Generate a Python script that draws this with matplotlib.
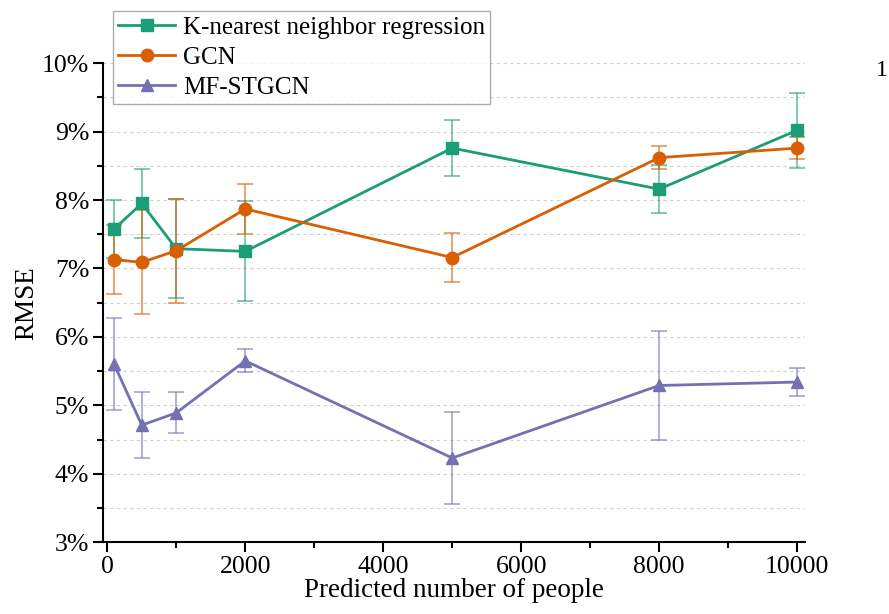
import matplotlib.pyplot as plt
from matplotlib.ticker import MultipleLocator, FuncFormatter

plt.rcParams['font.family'] = ['Liberation Serif', 'DejaVu Serif']

# Data (RMSE in %)
x = [100, 500, 1000, 2000, 5000, 8000, 10000]
knn = [7.58, 7.95, 7.29, 7.25, 8.76, 8.16, 9.02]
knn_err = [0.42, 0.50, 0.72, 0.73, 0.41, 0.35, 0.55]
gcn = [7.13, 7.09, 7.26, 7.87, 7.16, 8.62, 8.76]
gcn_err = [0.50, 0.76, 0.76, 0.36, 0.36, 0.17, 0.16]
mf = [5.60, 4.71, 4.89, 5.65, 4.23, 5.29, 5.34]
mf_err = [0.67, 0.48, 0.30, 0.17, 0.67, 0.79, 0.21]

names = ['K-nearest neighbor regression', 'GCN', 'MF-STGCN']
colors = ['#1b9e77', '#d95f02', '#7570b3']
markers = ['s', 'o', '^']

fig = plt.figure(figsize=(8.89, 6.14), dpi=100)
ax = fig.add_axes([0.116, 0.117, 0.79, 0.78])

handles = []
for ys, es, c, m, n in zip([knn, gcn, mf], [knn_err, gcn_err, mf_err], colors, markers, names):
    ax.errorbar(x, ys, yerr=es, fmt='none', ecolor=c, alpha=0.65,
                elinewidth=1.2, capsize=6, capthick=1.2, zorder=2)
    h, = ax.plot(x, ys, color=c, marker=m, markersize=9, linewidth=2, label=n, zorder=3)
    handles.append(h)

ax.set_xlim(-60, 10120)
ax.set_ylim(3, 10)
ax.xaxis.set_major_locator(MultipleLocator(2000))
ax.xaxis.set_minor_locator(MultipleLocator(1000))
ax.yaxis.set_major_locator(MultipleLocator(1))
ax.yaxis.set_minor_locator(MultipleLocator(0.5))
ax.yaxis.set_major_formatter(FuncFormatter(lambda v, p: '%d%%' % round(v)))

ax.grid(True, axis='y', which='both', linestyle=(0, (3, 3)), color='#d0d0d0', linewidth=0.8)
ax.set_axisbelow(True)

for s in ['top', 'right']:
    ax.spines[s].set_visible(False)
for s in ['left', 'bottom']:
    ax.spines[s].set_linewidth(1.5)

ax.tick_params(which='major', direction='out', length=7, width=1.5, labelsize=18.5, pad=3)
ax.tick_params(which='minor', direction='out', length=4, width=1.5)

ax.set_xlabel('Predicted number of people', fontsize=19.5, labelpad=0)
ax.set_ylabel('RMSE', fontsize=19.5, labelpad=2)

fig.legend(handles=handles, loc='upper left', bbox_to_anchor=(0.127, 0.982),
           fontsize=18, frameon=True, fancybox=False, edgecolor='#999999',
           handlelength=2.3, handletextpad=0.3, borderpad=0.2, labelspacing=0.3,
           borderaxespad=0)

fig.text(0.985, 0.885, '1', fontsize=17, ha='left', va='center')

fig.savefig('out.png', dpi=100)
